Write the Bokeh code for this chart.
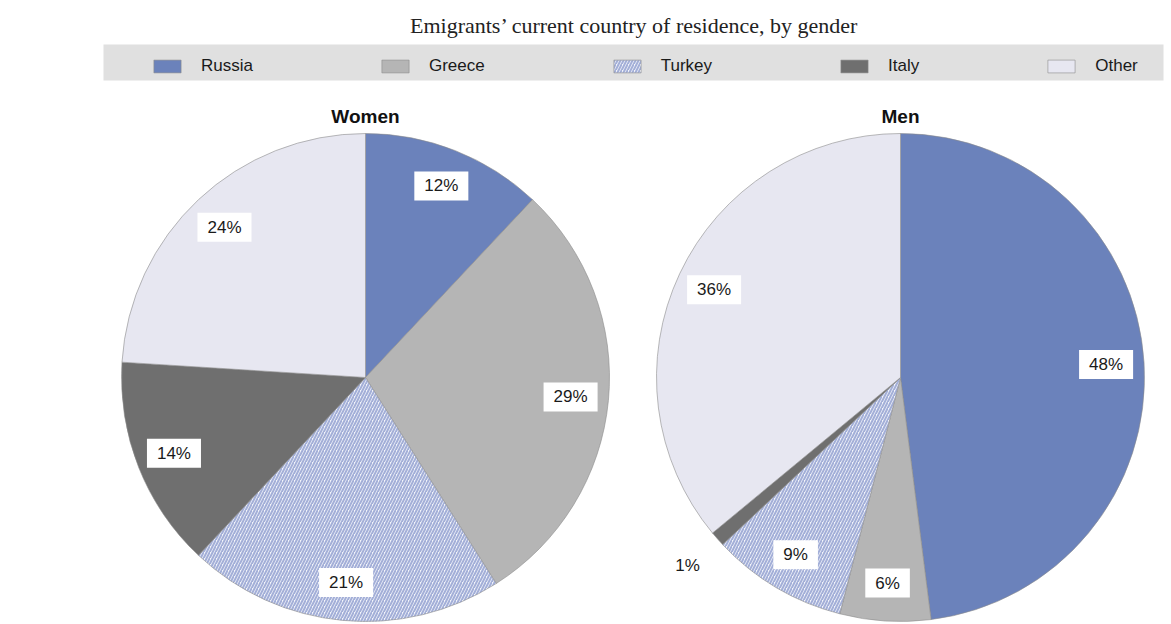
import numpy as np
from bokeh.plotting import figure
from bokeh.models import (ColumnDataSource, Legend, LegendItem, BoxAnnotation, Label,
                          Range1d, CDSView, IndexFilter)
from bokeh.core.properties import value, field
from bokeh.embed import file_html
from bokeh.resources import INLINE

# ---- data ----
countries = ["Russia", "Greece", "Turkey", "Italy", "Other"]
women = [12, 29, 21, 14, 24]
men = [48, 6, 9, 1, 36]
panel_titles = ["Women", "Men"]
subtitle = "Emigrants\u2019 current country of residence, by gender"

# ---- styles ----
colors = ["#6b82bb", "#b5b5b5", "#f3f4fa", "#6f6f6f", "#e7e7f1"]
hatches = [" ", " ", "/", " ", " "]
SANS = "Liberation Sans"

W, H = 1171, 624
p = figure(width=W, height=H, x_range=Range1d(0, W), y_range=Range1d(0, H),
           output_backend="svg", toolbar_location=None, min_border=0,
           x_axis_location=None, y_axis_location=None)
p.grid.visible = False
p.outline_line_color = None
p.background_fill_color = "white"
p.border_fill_color = "white"

# legend band
p.add_layout(BoxAnnotation(left=103, right=1163, bottom=544, top=580,
                           fill_color="#e0e0e0", fill_alpha=1.0,
                           line_color=None, level="underlay"))

R = 244
CY = 247
centers = [365, 900]


def draw_pie(vals, cx, title):
    v = np.array(vals, dtype=float)
    frac = v / v.sum()
    cum = np.cumsum(frac)
    start = np.concatenate([[0.0], cum[:-1]])
    sa = np.pi / 2 - 2 * np.pi * cum
    ea = np.pi / 2 - 2 * np.pi * start
    mid = (sa + ea) / 2
    lr = np.where(v >= 3, 206, 284)
    src = ColumnDataSource(dict(
        country=countries, value=vals, color=colors, hatch=hatches,
        start=sa, end=ea,
        lx=cx + lr * np.cos(mid), ly=CY + lr * np.sin(mid),
        label=[f"{x}%" for x in vals]))
    r = p.wedge(x=cx, y=CY, radius=R, start_angle="start", end_angle="end",
                fill_color="color", hatch_pattern=field("hatch"),
                hatch_color="#a3afd8", hatch_scale=6, hatch_weight=2.0,
                line_color="#8c8c8c", line_width=0.6, source=src)
    boxed = [i for i, x in enumerate(vals) if x >= 3]
    plain = [i for i, x in enumerate(vals) if x < 3]
    p.text(x="lx", y="ly", text="label", source=src,
           view=CDSView(filter=IndexFilter(boxed)),
           text_align="center", text_baseline="middle",
           text_font=value(SANS), text_font_size="17px", text_color="#1a1a1a",
           background_fill_color="white", padding=(10, 5))
    if plain:
        p.text(x="lx", y="ly", text="label", source=src,
               view=CDSView(filter=IndexFilter(plain)),
               text_align="center", text_baseline="middle",
               text_font=value(SANS), text_font_size="17px", text_color="#1a1a1a")
    p.add_layout(Label(x=cx, y=508, text=title, text_align="center",
                       text_baseline="alphabetic", text_font=SANS,
                       text_font_size="19px", text_font_style="bold",
                       text_color="#111111"))
    return r


rw = draw_pie(women, centers[0], panel_titles[0])
rm = draw_pie(men, centers[1], panel_titles[1])

p.add_layout(Label(x=634, y=599, text=subtitle, text_align="center",
                   text_baseline="alphabetic", text_font="Liberation Serif",
                   text_font_size="22px", text_color="#222222"))

items = [LegendItem(label=c, renderers=[rw], index=i) for i, c in enumerate(countries)]
legend = Legend(items=items, orientation="horizontal", location=(150, 548),
                glyph_width=34, glyph_height=16, label_standoff=17, spacing=125,
                padding=0, margin=0, border_line_color=None,
                background_fill_alpha=0.0,
                label_text_font=SANS, label_text_font_size="17px",
                label_text_color="#1a1a1a")
p.add_layout(legend)

open("out.html", "w").write(file_html(p, INLINE))
